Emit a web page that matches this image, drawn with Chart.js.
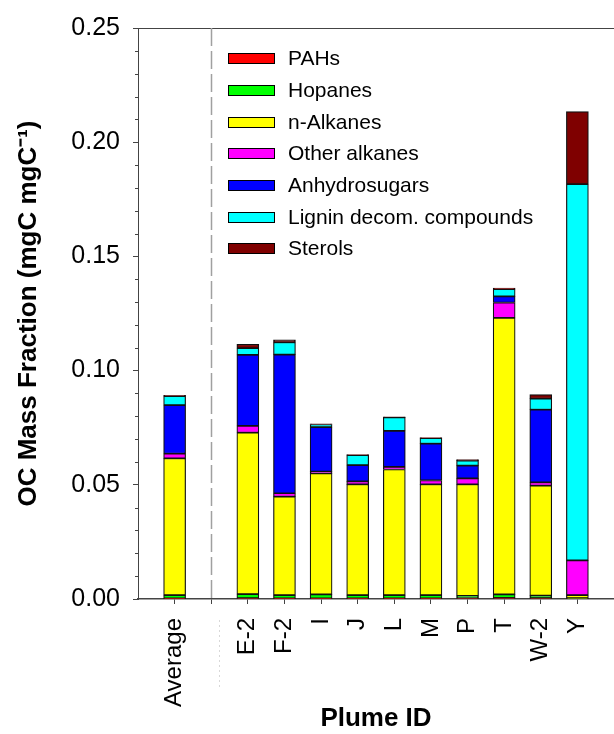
<!DOCTYPE html>
<html>
<head>
<meta charset="utf-8">
<script src="https://cdn.jsdelivr.net/npm/chart.js@4.4.1/dist/chart.umd.min.js"></script>
<style>
  body { margin: 0; background: #fff; }
  #box { width: 614px; height: 734px; }
</style>
</head>
<body>
<div id="box"><canvas id="ocChart"></canvas></div>
<script>
// plumes : Average first, then each plume
const plumes = ["Average", "E-2", "F-2", "I", "J", "L", "M", "P", "T", "W-2", "Y"];

// OC mass fraction per compound class (mgC mgC-1), same order as plumes
const pahs          = [0.0003, 0.0004, 0.0003, 0.0003, 0.0003, 0.0003, 0.0003, 0.0004, 0.0005, 0.0004, 0.0002];
const hopanes       = [0.0014, 0.0017, 0.0014, 0.0017, 0.0014, 0.0014, 0.0014, 0.0010, 0.0015, 0.0011, 0.0002];
const nAlkanes      = [0.0599, 0.0707, 0.0431, 0.0530, 0.0485, 0.0550, 0.0485, 0.0488, 0.1211, 0.0481, 0.0013];
const otherAlkanes  = [0.0020, 0.0030, 0.0015, 0.0008, 0.0013, 0.0011, 0.0017, 0.0026, 0.0067, 0.0015, 0.0152];
const anhydrosugars = [0.0213, 0.0311, 0.0607, 0.0194, 0.0071, 0.0158, 0.0161, 0.0056, 0.0027, 0.0318, 0.0000];
const lignin        = [0.0039, 0.0029, 0.0054, 0.0012, 0.0044, 0.0059, 0.0024, 0.0022, 0.0032, 0.0048, 0.1647];
const sterols       = [0.0004, 0.0017, 0.0011, 0.0003, 0.0002, 0.0003, 0.0003, 0.0004, 0.0004, 0.0018, 0.0318];

const yTicks = [0, 0.05, 0.10, 0.15, 0.20, 0.25];

const FONT = "'Liberation Sans', Arial, sans-serif";
const AXIS = "#444";

// axis slots : empty | Average | empty (separator) | plumes... | empty
const axisLabels = ["", plumes[0], "", ...plumes.slice(1), ""];
const GAP = 2;
function pad(arr) {
    return [null, arr[0], null, ...arr.slice(1), null];
}

Chart.defaults.font.family = FONT;
Chart.defaults.color = "#000";

///////////////////////////////// petits plugins

// minor ticks every 0.01 on the y axis
const minorTicks = {
    id: "minorTicks",
    afterDraw(chart) {
        const ctx = chart.ctx;
        const y = chart.scales.y;
        const left = chart.chartArea.left;
        ctx.save();
        ctx.strokeStyle = AXIS;
        ctx.lineWidth = 1;
        for (let i = 1; i < 25; i++) {
            if (i % 5 === 0) continue;
            const py = Math.round(y.getPixelForValue(i / 100)) + 0.5;
            ctx.beginPath();
            ctx.moveTo(left - 3, py);
            ctx.lineTo(left, py);
            ctx.stroke();
        }
        ctx.restore();
    }
};

// dashed line between Average and the plumes
const separator = {
    id: "separator",
    beforeDatasetsDraw(chart) {
        const ctx = chart.ctx;
        const area = chart.chartArea;
        const x = Math.round(chart.scales.x.getPixelForValue(GAP)) + 0.5;
        ctx.save();
        ctx.strokeStyle = "#a0a0a0";
        ctx.lineWidth = 1.5;
        ctx.setLineDash([18, 5]);
        ctx.beginPath();
        ctx.moveTo(x, area.top);
        ctx.lineTo(x, area.bottom);
        ctx.stroke();
        // faint dotted mark under the axis
        ctx.strokeStyle = "#d8d8d8";
        ctx.lineWidth = 1;
        ctx.setLineDash([2, 3]);
        ctx.beginPath();
        ctx.moveTo(x + 8, area.bottom + 21);
        ctx.lineTo(x + 8, area.bottom + 91);
        ctx.stroke();
        ctx.restore();
    }
};

// legend inside the plot
const boxLegend = {
    id: "boxLegend",
    afterDraw(chart) {
        const ctx = chart.ctx;
        const x0 = 228, y0 = 58.3, step = 31.67;
        ctx.save();
        ctx.font = "21px " + FONT;
        ctx.textBaseline = "middle";
        chart.data.datasets.forEach((ds, i) => {
            const cy = Math.round(y0 + i * step);
            ctx.fillStyle = ds.backgroundColor;
            ctx.fillRect(x0, cy - 5, 47, 11);
            ctx.strokeStyle = "#000";
            ctx.lineWidth = 1;
            ctx.strokeRect(x0 + 0.5, cy - 4.5, 46, 10);
            ctx.fillStyle = "#000";
            ctx.fillText(ds.label, 288, cy + 1);
        });
        ctx.restore();
    }
};

///////////////////////////////// GRAPH

const series = [
    { label: "PAHs", values: pahs, color: "#ff0000" },
    { label: "Hopanes", values: hopanes, color: "#00ff00" },
    { label: "n-Alkanes", values: nAlkanes, color: "#ffff00" },
    { label: "Other alkanes", values: otherAlkanes, color: "#ff00ff" },
    { label: "Anhydrosugars", values: anhydrosugars, color: "#0000ff" },
    { label: "Lignin decom. compounds", values: lignin, color: "#00ffff" },
    { label: "Sterols", values: sterols, color: "#7f0000" }
];

let chart = document.getElementById("ocChart");
let barChart = new Chart(chart, {
    type: "bar",
    data: {
        labels: axisLabels,
        datasets: series.map(s => ({
            label: s.label,
            data: pad(s.values),
            backgroundColor: s.color,
            borderColor: "#111",
            borderWidth: 1.2,
            borderSkipped: false,
            barThickness: 22
        }))
    },
    options: {
        responsive: true,
        maintainAspectRatio: false,
        animation: false,
        layout: { padding: { top: 23, left: 0, right: 0, bottom: 0 } },
        plugins: {
            legend: { display: false },
            tooltip: { enabled: false }
        },
        scales: {
            x: {
                stacked: true,
                offset: false,
                grid: {
                    offset: false,
                    drawOnChartArea: false,
                    tickLength: 5,
                    tickColor: c => (c.index === 0 || c.index === axisLabels.length - 1) ? "transparent" : AXIS
                },
                border: { color: AXIS, width: 1.5 },
                ticks: {
                    autoSkip: false,
                    minRotation: 90,
                    maxRotation: 90,
                    padding: 14,
                    font: { size: 24 },
                    color: "#000"
                },
                title: {
                    display: true,
                    text: "Plume ID",
                    font: { size: 26, weight: "bold" },
                    padding: { top: 0, bottom: 0 }
                },
                afterFit(s) {
                    s.height = 135;
                    s.paddingLeft = 0;
                    s.paddingRight = 0;
                }
            },
            y: {
                stacked: true,
                min: 0,
                max: 0.25,
                afterBuildTicks(s) {
                    s.ticks = yTicks.map(v => ({ value: v }));
                },
                grid: {
                    color: c => (c.tick && c.tick.value === 0.25) ? AXIS : "transparent",
                    tickColor: AXIS,
                    tickLength: 5
                },
                border: { color: AXIS, width: 1 },
                ticks: {
                    padding: 13,
                    font: { size: 25 },
                    color: "#000",
                    callback: v => v.toFixed(2)
                },
                title: {
                    display: true,
                    text: "OC Mass Fraction (mgC mgC\u207B\u00B9)",
                    font: { size: 26, weight: "bold" },
                    padding: { top: 13.7, bottom: 0 }
                },
                afterFit(s) {
                    s.width = 138;
                }
            }
        }
    },
    plugins: [separator, minorTicks, boxLegend]
});
</script>
</body>
</html>
